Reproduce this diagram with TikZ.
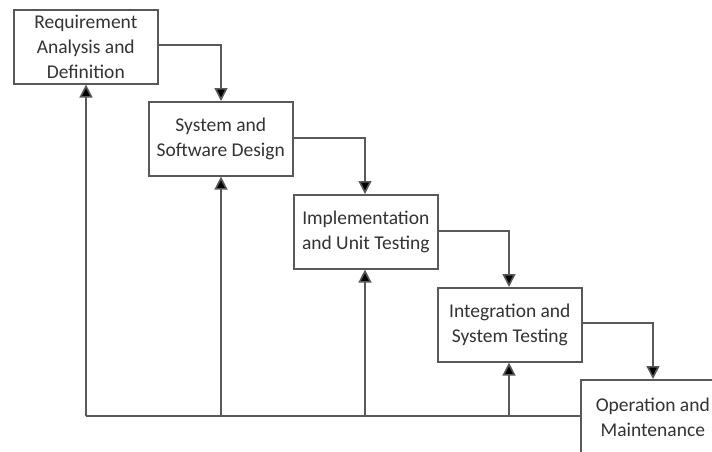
\documentclass[tikz,border=0pt]{standalone}
\usepackage{fontspec}
\setmainfont{Carlito}
\usetikzlibrary{arrows.meta}
\begin{document}
\begin{tikzpicture}[x=1pt,y=-1pt,
  stage/.style={draw=black!65, line width=1.6pt, fill=white, minimum width=144pt, minimum height=74pt, inner sep=0pt, align=center, font=\fontsize{19.5}{25}\selectfont, text=black!80, anchor=north west},
  flow/.style={draw=black!65, line width=1.6pt, -{Triangle[length=13pt,width=13pt,fill=black]}}]
\useasboundingbox (0,0) rectangle (712,451);
\clip (0,0) rectangle (712,451);
\fill[white] (0,0) rectangle (712,451);
\node[stage] (a) at (13,9) {Requirement\\Analysis and\\Definition};
\node[stage] (b) at (148,101) {System and\\Software Design};
\node[stage] (c) at (293,194) {Implementation\\and Unit Testing};
\node[stage] (d) at (437,287) {Integration and\\System Testing};
\node[stage] (e) at (580,379) {Operation and\\Maintenance};
\coordinate (a1) at (221,45);
\coordinate (b1) at (365,138);
\coordinate (c1) at (509,231);
\coordinate (d1) at (653,323);
\draw[flow] (a.east |- a1) -- (a1) -- (a1 |- b.north);
\draw[flow] (b.east |- b1) -- (b1) -- (b1 |- c.north);
\draw[flow] (c.east |- c1) -- (c1) -- (c1 |- d.north);
\draw[flow] (d.east |- d1) -- (d1) -- (d1 |- e.north);
\coordinate (f) at (86,416);
\coordinate (fb) at (221,416);
\coordinate (fc) at (365,416);
\coordinate (fd) at (509,416);
\draw[draw=black!65, line width=1.6pt] (f) -- (e.west |- f);
\draw[flow] (f) -- (f |- a.south);
\draw[flow] (fb) -- (fb |- b.south);
\draw[flow] (fc) -- (fc |- c.south);
\draw[flow] (fd) -- (fd |- d.south);
\end{tikzpicture}
\end{document}
